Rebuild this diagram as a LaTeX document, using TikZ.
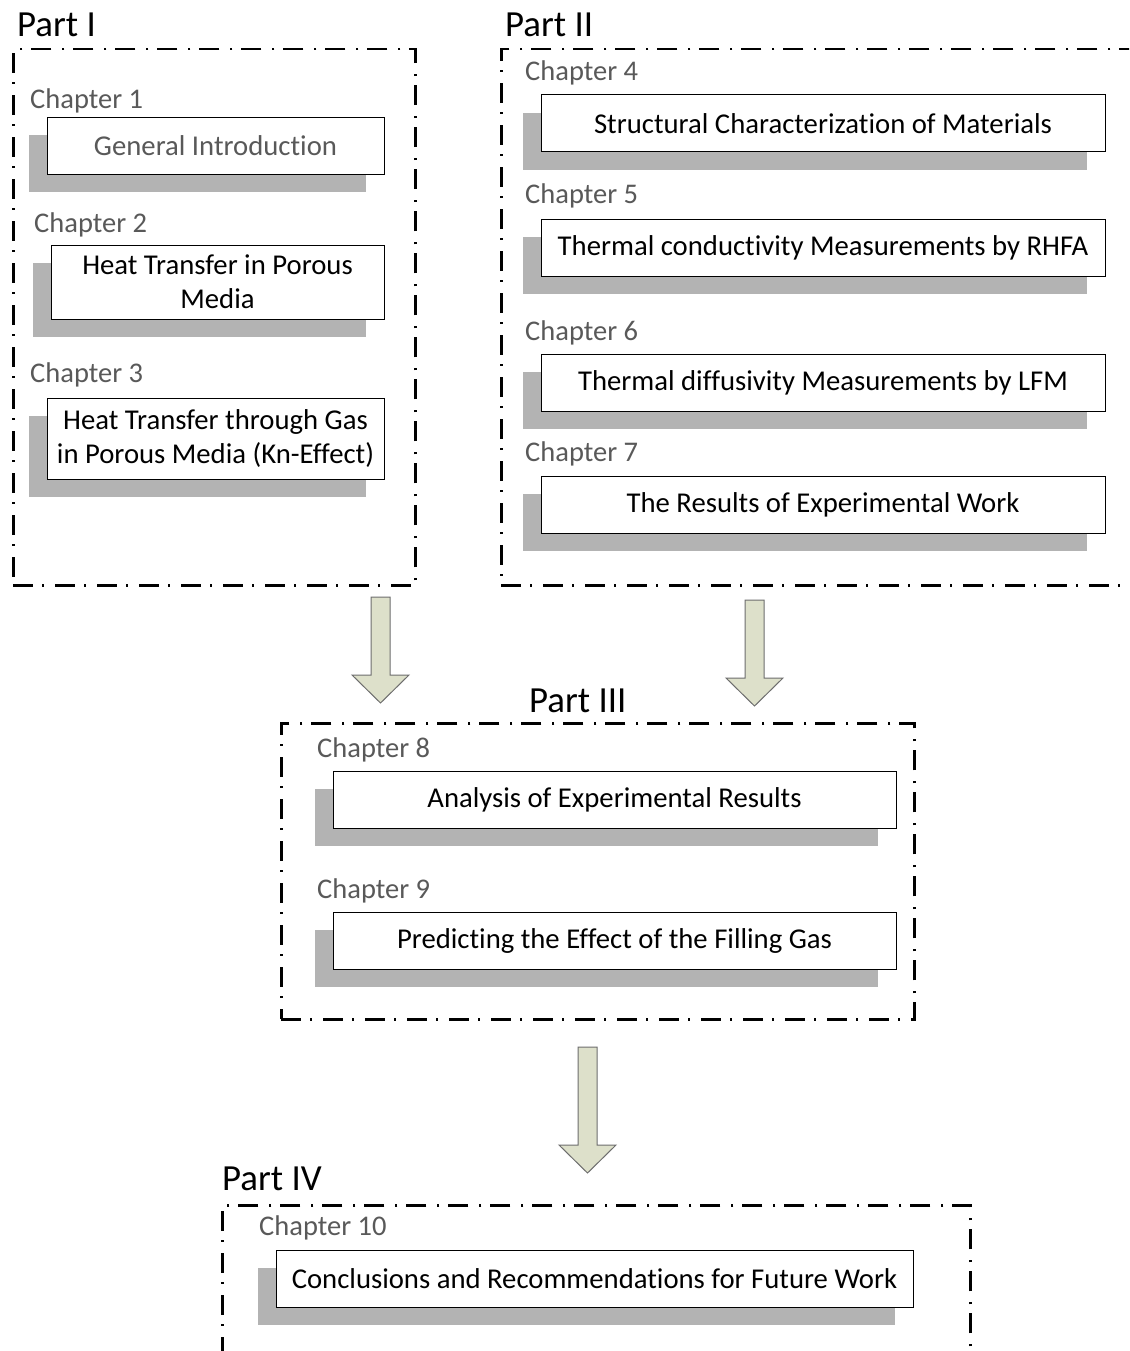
\documentclass[tikz,border=0pt]{standalone}
\usepackage{fontspec}
\setmainfont{Carlito}[Ligatures=NoCommon]
\usetikzlibrary{shadows}
\definecolor{labelgray}{HTML}{595959}
\definecolor{shadowgray}{HTML}{B3B3B3}
\definecolor{arrowfill}{HTML}{DDE0CA}
\definecolor{arrowline}{HTML}{6E6E6E}
\tikzset{
  partframe/.style={draw=black, line width=2.5pt,
    dash pattern=on 20pt off 9pt on 2pt off 11pt,
    anchor=north west, inner sep=0pt},
  parttitle/.style={anchor=base west, inner sep=0pt, font=\fontsize{36.8}{40}\selectfont},
  chaplabel/.style={anchor=base west, inner sep=0pt, text=labelgray,
    font=\fontsize{28.5}{34}\selectfont},
  chapbox/.style={draw=black, line width=1pt, fill=white, align=center,
    inner sep=0pt, font=\fontsize{28.7}{34}\selectfont,
    general shadow={fill=shadowgray, shadow xshift=-18pt, shadow yshift=-18pt}},
  blockarrow/.style={fill=arrowfill, draw=arrowline, line width=1pt, line join=miter},
  pics/downarrow/.style={code={
    \draw[blockarrow] (-9.5,0) -- (-9.5,#1-28) -- (-28.5,#1-28) -- (0,#1)
      -- (28.5,#1-28) -- (9.5,#1-28) -- (9.5,0) -- cycle;}}
}
\begin{document}
\begin{tikzpicture}[x=1pt, y=-1pt]
\fill[white] (0,0) rectangle (1129,1351);
\clip (0,0) rectangle (1129,1351);
\useasboundingbox (0,0) rectangle (1129,1351);

% frames of the four parts
\node[partframe, minimum width=402pt, minimum height=536pt] (part1) at (12,48) {};
\node[partframe, minimum width=660pt, minimum height=536pt] (part2) at (500,48) {};
\node[partframe, minimum width=633pt, minimum height=296pt] (part3) at (280,722) {};
\node[partframe, minimum width=748pt, minimum height=220pt] (part4) at (221,1204) {};

\node[parttitle] (t1) at (17,37) {Part I};
\node[parttitle] (t2) at (505,37) {Part II};
\node[parttitle] (t3) at (529,712) {Part III};
\node[parttitle] (t4) at (222,1190) {Part IV};

% Part I
\node[chaplabel] (l1) at (30,109) {Chapter 1};
\node[chapbox, minimum width=337pt, minimum height=57pt, text=labelgray] (c1) at (215.5,146) {General Introduction};
\node[chaplabel] (l2) at (34,232) {Chapter 2};
\node[chapbox, minimum width=333pt, minimum height=74pt] (c2) at (217.5,282) {Heat Transfer in Porous\\Media};
\node[chaplabel] (l3) at (30,382) {Chapter 3};
\node[chapbox, minimum width=337pt, minimum height=81pt] (c3) at (215.5,438.5) {Heat Transfer through Gas\\in Porous Media (Kn-Effect)};

% Part II
\node[chaplabel] (l4) at (525,81) {Chapter 4};
\node[chapbox, minimum width=564pt, minimum height=57pt] (c4) at (823,123.5) {Structural Characterization of Materials};
\node[chaplabel] (l5) at (525,204) {Chapter 5};
\node[chapbox, minimum width=564pt, minimum height=57pt] (c5) at (823,247.5) {Thermal conductivity Measurements by RHFA};
\node[chaplabel] (l6) at (525,340) {Chapter 6};
\node[chapbox, minimum width=564pt, minimum height=57pt] (c6) at (823,382.5) {Thermal diffusivity Measurements by LFM};
\node[chaplabel] (l7) at (525,461) {Chapter 7};
\node[chapbox, minimum width=564pt, minimum height=57pt] (c7) at (823,504.5) {The Results of Experimental Work};

% Part III
\node[chaplabel] (l8) at (317,757) {Chapter 8};
\node[chapbox, minimum width=563pt, minimum height=57pt] (c8) at (614.5,799.5) {Analysis of Experimental Results};
\node[chaplabel] (l9) at (317,898) {Chapter 9};
\node[chapbox, minimum width=563pt, minimum height=57pt] (c9) at (614.5,940.5) {Predicting the Effect of the Filling Gas};

% Part IV
\node[chaplabel] (l10) at (259,1235) {Chapter 10};
\node[chapbox, minimum width=637pt, minimum height=57pt] (c10) at (594.5,1278.5) {Conclusions and Recommendations for Future Work};

% block arrows between the parts
\pic at (380.5,597) {downarrow=106};
\pic at (754.5,600) {downarrow=106};
\pic at (587.5,1047) {downarrow=126};
\end{tikzpicture}
\end{document}
